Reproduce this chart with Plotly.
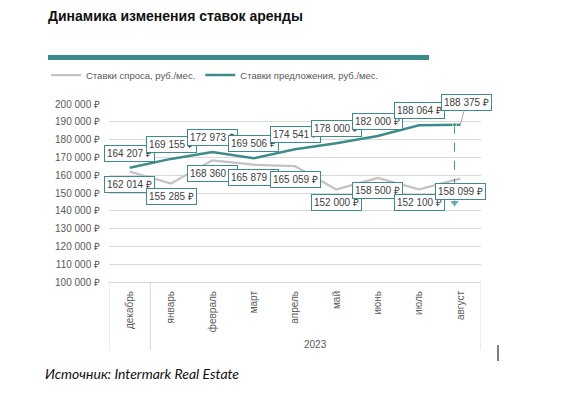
import plotly.graph_objects as go

months = ["декабрь", "январь", "февраль", "март", "апрель", "май", "июнь", "июль", "август"]
group_label = "2023"
demand = [162014, 155285, 168360, 165879, 165059, 152000, 158500, 152100, 158099]
supply = [164207, 169155, 172973, 169506, 174541, 178000, 182000, 188064, 188375]
drop_range = [188375, 144500]
y_ticks = list(range(100000, 200001, 10000))

demand_name = "Ставки спроса, руб./мес."
supply_name = "Ставки предложения, руб./мес."

TEAL = "#3e8b8d"
GRAY = "#c3c3c3"
TXT = "#595959"
FONT = "Liberation Sans, Arial, sans-serif"

def rub(v):
    return f"{v:,}".replace(",", " ") + " ₽"

xs = list(range(len(months)))

fig = go.Figure()
fig.add_trace(go.Scatter(x=xs, y=demand, mode="lines", name=demand_name,
                         line=dict(color=GRAY, width=2.25), cliponaxis=False))
fig.add_trace(go.Scatter(x=xs, y=supply, mode="lines", name=supply_name,
                         line=dict(color=TEAL, width=2.5), cliponaxis=False))
# drop line on the last point
last = len(months) - 1 - 0.14
fig.add_trace(go.Scatter(x=[last, last], y=drop_range, mode="lines+markers", showlegend=False,
                         line=dict(color=TEAL, width=1, dash="dash"),
                         marker=dict(symbol=["circle", "triangle-down"], size=[4, 9], color=TEAL),
                         cliponaxis=False))

ann = []
def label(x, y, text, yshift, xshift=0, arrow=False, ax=0, ay=0):
    d = dict(x=x, y=y, xref="x", yref="y", text=text,
             font=dict(family=FONT, size=10, color="#404040"),
             bgcolor="white", bordercolor=TEAL, borderwidth=1, borderpad=2)
    if arrow:
        d.update(showarrow=True, arrowhead=0, arrowcolor="#a6a6a6", arrowwidth=1, ax=ax, ay=ay,
                 standoff=0)
    else:
        d.update(showarrow=False, yshift=yshift, xshift=xshift)
    ann.append(d)

for i, v in enumerate(demand):
    label(i, v, rub(v), -13)
for i, v in enumerate(supply):
    if i == len(supply) - 1:
        label(i, v, rub(v), 0, arrow=True, ax=6, ay=-22)
    else:
        label(i, v, rub(v), 14.5)

W, H = 586, 397
L, R, T, B = 109, 105, 104, 115
pw, ph = W - L - R, H - T - B

def px(xp):
    return (xp - L) / pw

def py(yp):
    return (H - B - yp) / ph

ann.append(dict(x=px(46), y=py(16), xref="paper", yref="paper", xanchor="left", yanchor="middle",
                text="<b>Динамика изменения ставок аренды</b>", showarrow=False,
                font=dict(family=FONT, size=14, color="#111111")))
ann.append(dict(x=(0.5 + len(months) - 0.5) / 2, y=py(344), xref="x", yref="paper",
                xanchor="center", yanchor="middle", text=group_label, showarrow=False,
                font=dict(family=FONT, size=10, color=TXT)))
ann.append(dict(x=px(43), y=py(373), xref="paper", yref="paper", xanchor="left", yanchor="middle",
                text="<i>Источник: Intermark Real Estate</i>", showarrow=False,
                font=dict(family="Lato, Open Sans, sans-serif", size=14, color="#111111")))

shapes = [
    dict(type="rect", xref="paper", yref="paper", x0=px(48), x1=px(429), y0=py(60), y1=py(55),
         fillcolor=TEAL, line=dict(width=0)),
    dict(type="line", xref="paper", yref="paper", x0=px(498), x1=px(498), y0=py(345), y1=py(361),
         line=dict(color="black", width=1)),
]
for xv in [-0.5, 0.5, len(months) - 0.5]:
    shapes.append(dict(type="line", xref="x", yref="paper", x0=xv, x1=xv, y0=0, y1=py(350),
                       line=dict(color="#d9d9d9", width=1)))

fig.update_layout(
    width=W, height=H, margin=dict(l=L, r=R, t=T, b=B, autoexpand=False),
    paper_bgcolor="white", plot_bgcolor="white",
    font=dict(family=FONT, size=10, color=TXT),
    showlegend=True,
    legend=dict(orientation="h", x=px(46), y=py(75), xanchor="left", yanchor="middle",
                xref="paper", yref="paper", font=dict(family=FONT, size=9.5, color=TXT),
                itemwidth=30, bgcolor="rgba(0,0,0,0)"),
    xaxis=dict(range=[-0.5, len(months) - 0.5], tickvals=xs, ticktext=months, tickangle=-90,
               showgrid=False, showline=True, linecolor="#d9d9d9", linewidth=1, zeroline=False,
               ticks="", tickfont=dict(family=FONT, size=10, color=TXT), ticklabelstandoff=4,
               automargin=False),
    yaxis=dict(range=[100000, 200000], tickvals=y_ticks, ticktext=[rub(v) for v in y_ticks],
               showgrid=True, gridcolor="#d9d9d9", gridwidth=1, zeroline=False, showline=False,
               ticks="", tickfont=dict(family=FONT, size=10, color=TXT), ticklabelstandoff=8,
               automargin=False),
    annotations=ann, shapes=shapes,
)

fig.write_html("out.html", config={"displayModeBar": False},
               post_script="document.body.style.margin='0';")
